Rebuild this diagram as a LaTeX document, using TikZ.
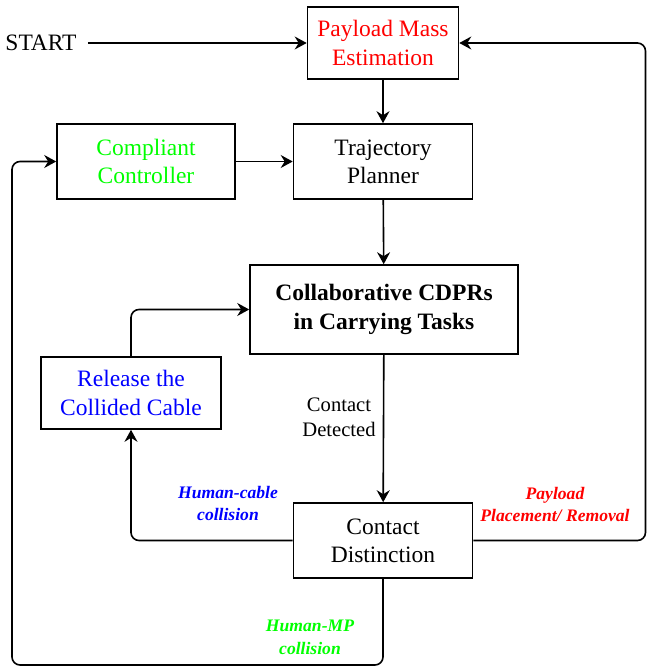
\documentclass[tikz,border=0pt]{standalone}
\usepackage{fontspec}
\setmainfont{Liberation Serif}
\usetikzlibrary{arrows.meta, positioning}

\begin{document}
\begin{tikzpicture}[
        x=1pt, y=-1pt,
        block/.style={rectangle, draw=black, line width=1.6pt, inner sep=0pt, align=center, font=\fontsize{23.5}{28.3}\selectfont},
        cond/.style={inner sep=0pt, align=center, font=\fontsize{17.6}{22.5}\selectfont\bfseries\itshape},
        arr/.style={line width=1.6pt, rounded corners=8pt, -{Stealth[length=12pt, width=13pt, inset=4pt]}}
    ]
    \useasboundingbox (0,0) rectangle (647,671);

    % Top row: estimation and planning
    \node[inner sep=0pt, font=\fontsize{23.5}{28.3}\selectfont] (start) at (41,43) {START};
    \node[block, minimum width=151, minimum height=72, text=red] (pme) at (383,43) {Payload Mass\\Estimation};
    \node[block, minimum width=179, minimum height=75] (tp) at (383,161.5) {Trajectory\\Planner};
    \node[block, minimum width=178, minimum height=75, text=green] (cc) at (146,161.5) {Compliant\\Controller};

    % Middle: carrying task and cable release
    \node[block, minimum width=268, minimum height=89, font=\fontsize{23.5}{28.3}\selectfont\bfseries] (ccdpr) at (384,309.5) {Collaborative CDPRs\\in Carrying Tasks};
    \node[block, minimum width=180, minimum height=72, text=blue] (rcc) at (131,393) {Release the\\Collided Cable};

    % Bottom: contact distinction
    \node[block, minimum width=179, minimum height=75] (cd) at (383,540.5) {Contact\\Distinction};

    % Turning points of the return loops
    \coordinate (rgt) at (645.5,300);
    \coordinate (bl) at (12,665);

    % --- Edges ---
    \draw[arr] (start.east) ++(11,0) -- (pme.west);
    \draw[arr] (pme) -- (tp);
    \draw[arr] (cc) -- (tp);
    \draw[arr] (tp) -- (ccdpr);
    \draw[arr] (rcc.north) |- (ccdpr.west);
    \draw[arr] (ccdpr) -- (cd);
    \draw[arr] (cd.west) -| (rcc.south);
    \draw[arr] (cd.east) -| (rgt) |- (pme.east);
    \draw[arr] (cd.south) |- (bl) |- (cc.west);

    % Annotations
    \node[inner sep=0pt, align=center, font=\fontsize{20.6}{24.7}\selectfont] at (339,417.5) {Contact\\Detected};
    \node[cond, text=blue] at (228,503.5) {Human-cable\\collision};
    \node[cond, text=red] at (555,504.5) {Payload\\Placement/ Removal};
    \node[cond, text=green] at (310,637.5) {Human-MP\\collision};

\end{tikzpicture}
\end{document}
